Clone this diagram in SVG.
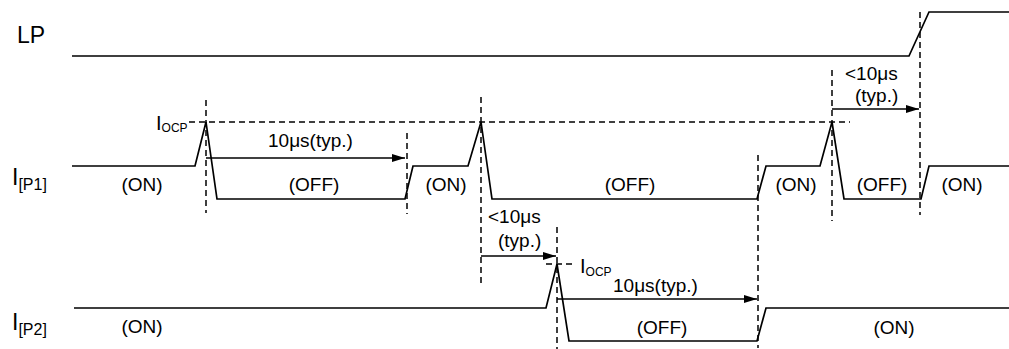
<svg xmlns="http://www.w3.org/2000/svg" width="1009" height="349" viewBox="0 0 1009 349">
<defs>
<marker id="ah" markerWidth="13" markerHeight="8" refX="13" refY="4" orient="auto" markerUnits="userSpaceOnUse">
<path d="M0,0 L13,4 L0,8 Z" fill="#000"/>
</marker>
<style>
.sig{fill:none;stroke:#000;stroke-width:1.7;stroke-linejoin:miter}
.dash{fill:none;stroke:#000;stroke-width:1.5;stroke-dasharray:6 4}
.arr{fill:none;stroke:#000;stroke-width:1.6;marker-end:url(#ah)}
text{font-family:"Liberation Sans",Arial,sans-serif;fill:#000}
.lbl{font-size:23px}
.st{font-size:19px;text-anchor:middle}
.t{font-size:19px}
</style>
</defs>
<rect width="1009" height="349" fill="#fff"/>

<g id="LP">
<text class="lbl" x="17" y="43">LP</text>
<path class="sig" d="M72,56 L909,56 L929,12 L1009,12"/>
</g>

<g id="IP1">
<text class="lbl" x="12" y="185">I<tspan font-size="16" dy="5">[P1]</tspan></text>
<path class="sig" d="M72,166 L195,166 L206,122 L217,199 L405,199 L413,166 L468,166 L481,122 L492,199 L757,199 L766,166 L820,166 L832,122 L844,199 L921,199 L929,166 L1009,166"/>
<text class="st" x="142" y="191">(ON)</text>
<text class="st" x="314" y="191">(OFF)</text>
<text class="st" x="446" y="191">(ON)</text>
<text class="st" x="630" y="191">(OFF)</text>
<text class="st" x="796" y="191">(ON)</text>
<text class="st" x="882" y="191">(OFF)</text>
<text class="st" x="962" y="191">(ON)</text>
</g>

<g id="IP2">
<text class="lbl" x="12" y="330">I<tspan font-size="16" dy="5">[P2]</tspan></text>
<path class="sig" d="M74,308 L546,308 L557,264 L569,341 L757,341 L766,308 L1009,308"/>
<text class="st" x="142" y="333">(ON)</text>
<text class="st" x="662" y="334">(OFF)</text>
<text class="st" x="894" y="334">(ON)</text>
</g>

<g id="IOCP1">
<text x="156" y="130" font-size="20">I<tspan font-size="12" dy="2">OCP</tspan></text>
<path class="dash" d="M189,122 L850,122"/>
</g>

<g id="IOCP2">
<text x="580" y="273" font-size="20">I<tspan font-size="12" dy="3">OCP</tspan></text>
<path class="dash" d="M546,264 L574,264"/>
</g>

<g id="guides">
<path class="dash" d="M206,100 L206,213"/>
<path class="dash" d="M407,133 L407,214"/>
<path class="dash" d="M481,97 L481,286"/>
<path class="dash" d="M758,155 L758,348"/>
<path class="dash" d="M832,70 L832,221"/>
<path class="dash" d="M920,12 L920,215"/>
<path class="dash" d="M557,227 L557,349"/>
</g>

<g id="connectors">
<path class="arr" d="M206,158 L405,158"/>
<path class="arr" d="M481,256 L556,256"/>
<path class="arr" d="M832,109 L919,109"/>
<path class="arr" d="M557,299 L757,299"/>
</g>

<g id="timings">
<text class="t" x="268" y="147">10μs(typ.)</text>
<text class="t" x="488" y="223">&lt;10μs</text>
<text class="t" x="498" y="247">(typ.)</text>
<text class="t" x="845" y="80">&lt;10μs</text>
<text class="t" x="855" y="102">(typ.)</text>
<text class="t" x="613" y="292">10μs(typ.)</text>
</g>
</svg>
